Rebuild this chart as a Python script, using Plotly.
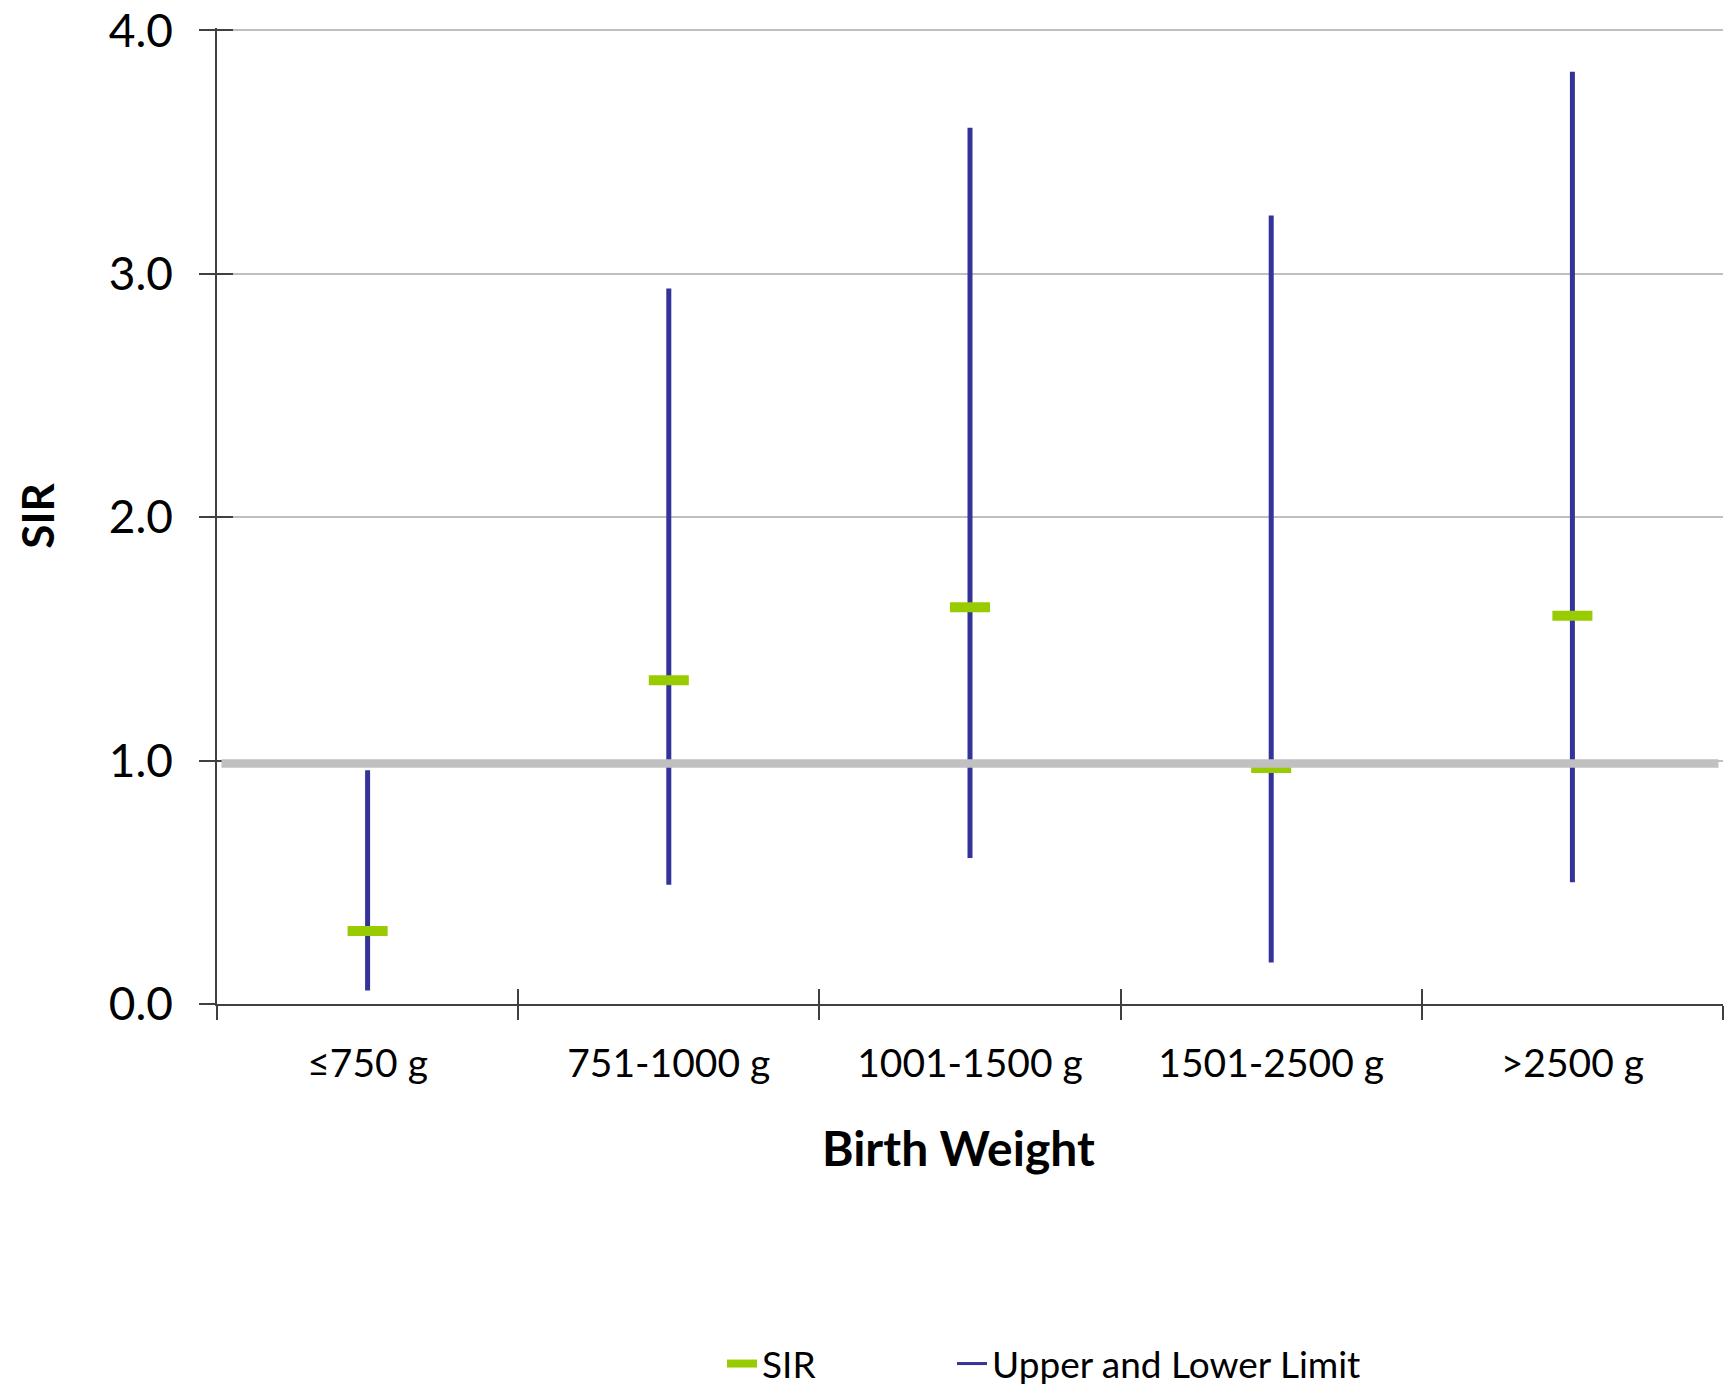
import plotly.graph_objects as go

categories = ["≤750 g", "751-1000 g", "1001-1500 g", "1501-2500 g", ">2500 g"]
sir = [0.30, 1.33, 1.63, 0.97, 1.595]
upper = [0.96, 2.94, 3.60, 3.24, 3.83]
lower = [0.055, 0.49, 0.60, 0.17, 0.50]
ref_value = 0.988
y_ticks = [0, 1, 2, 3, 4]
y_tick_labels = ["0.0", "1.0", "2.0", "3.0", "4.0"]
Y_MAX = 4.01

GREEN = "#99cc00"
BLUE = "#333399"
GRAY = "#c0c0c0"
AXIS = "#404040"
FONT = "Lato"

# page has an 8px body margin: figure is drawn from (8, 8)
OFF = 8
W, H = 1735 - OFF, 1385 - OFF
UNIT = 243.5
PW = 1506
PH = round(UNIT * Y_MAX)
ML = 217 - OFF
MT = (1004 - OFF) - PH
MR = W - ML - PW
MB = H - MT - PH

ci_x, ci_y = [], []
for c, lo, hi in zip(categories, lower, upper):
    ci_x += [c, c, None]
    ci_y += [lo, hi, None]

fig = go.Figure()
fig.add_trace(go.Scatter(x=ci_x, y=ci_y, mode="lines", line=dict(color=BLUE, width=5),
                         showlegend=False, hoverinfo="skip"))
fig.add_trace(go.Scatter(x=categories, y=sir, mode="markers",
                         marker=dict(symbol="line-ew", size=28.6, color=GREEN,
                                     line=dict(color=GREEN, width=10)),
                         showlegend=False, name="SIR"))
# legend entries
fig.add_trace(go.Scatter(x=[None], y=[None], mode="lines", line=dict(color=GREEN, width=8),
                         name="SIR", legend="legend"))
fig.add_trace(go.Scatter(x=[None], y=[None], mode="lines", line=dict(color=BLUE, width=3),
                         name="Upper and Lower Limit", legend="legend2"))
# invisible trace for overlay axes (crossing ticks)
fig.add_trace(go.Scatter(x=categories, y=sir, xaxis="x2", yaxis="y2", mode="markers",
                         marker=dict(opacity=0), showlegend=False, hoverinfo="skip"))

fig.add_shape(type="line", xref="paper", yref="y", x0=0.003, x1=0.997,
              y0=ref_value, y1=ref_value, line=dict(color=GRAY, width=8.5), layer="above")

fig.add_annotation(text="<b>Birth Weight</b>", xref="paper", yref="paper",
                   x=(958 - OFF - ML) / PW, y=(MT + PH - (1147 - OFF)) / PH,
                   xanchor="center", yanchor="middle", showarrow=False,
                   font=dict(size=48, family=FONT, color="black"))

LEG_Y = (MT + PH - (1364 - OFF)) / PH

fig.update_layout(
    width=W, height=H,
    margin=dict(l=ML, r=MR, t=MT, b=MB, pad=0, autoexpand=False),
    plot_bgcolor="white", paper_bgcolor="white",
    font=dict(family=FONT, color="black"),
    xaxis=dict(type="category", categoryorder="array", categoryarray=categories,
               range=[-0.5, 4.5], tickson="boundaries", ticks="outside", ticklen=14,
               tickwidth=1.5, tickcolor=AXIS, showline=True, linecolor=AXIS, linewidth=1.5,
               showgrid=False, tickfont=dict(size=39, family=FONT),
               ticklabelstandoff=24, automargin=False, zeroline=False),
    xaxis2=dict(type="category", categoryorder="array", categoryarray=categories,
                overlaying="x", range=[-0.5, 4.5], tickson="boundaries", ticks="inside",
                ticklen=15, tickwidth=1.5, tickcolor=AXIS, showticklabels=False,
                showgrid=False, showline=False, anchor="y", automargin=False),
    yaxis=dict(range=[0, Y_MAX], tickvals=y_ticks, ticktext=y_tick_labels, ticks="outside",
               ticklen=16, tickwidth=1.5, tickcolor=AXIS, showline=True, linecolor=AXIS,
               linewidth=1.5, showgrid=True, gridcolor=GRAY, gridwidth=2,
               tickfont=dict(size=46, family=FONT), zeroline=False, automargin=False,
               ticklabelstandoff=17, ticklabeloverflow="allow",
               title=dict(text="<b>SIR</b>", font=dict(size=44, family=FONT), standoff=40)),
    yaxis2=dict(range=[0, Y_MAX], tickvals=y_ticks, overlaying="y", ticks="inside", ticklen=16,
                tickwidth=1.5, tickcolor=AXIS, showticklabels=False, showgrid=False,
                showline=False, zeroline=False, anchor="x", automargin=False),
    legend=dict(orientation="h", x=(722 - OFF - ML) / PW, xanchor="left", y=LEG_Y,
                yanchor="middle", font=dict(size=37, family=FONT), bgcolor="rgba(0,0,0,0)"),
    legend2=dict(orientation="h", x=(952 - OFF - ML) / PW, xanchor="left", y=LEG_Y,
                 yanchor="middle", font=dict(size=37, family=FONT), bgcolor="rgba(0,0,0,0)"),
    showlegend=True,
)

fig.write_html("out.html")
